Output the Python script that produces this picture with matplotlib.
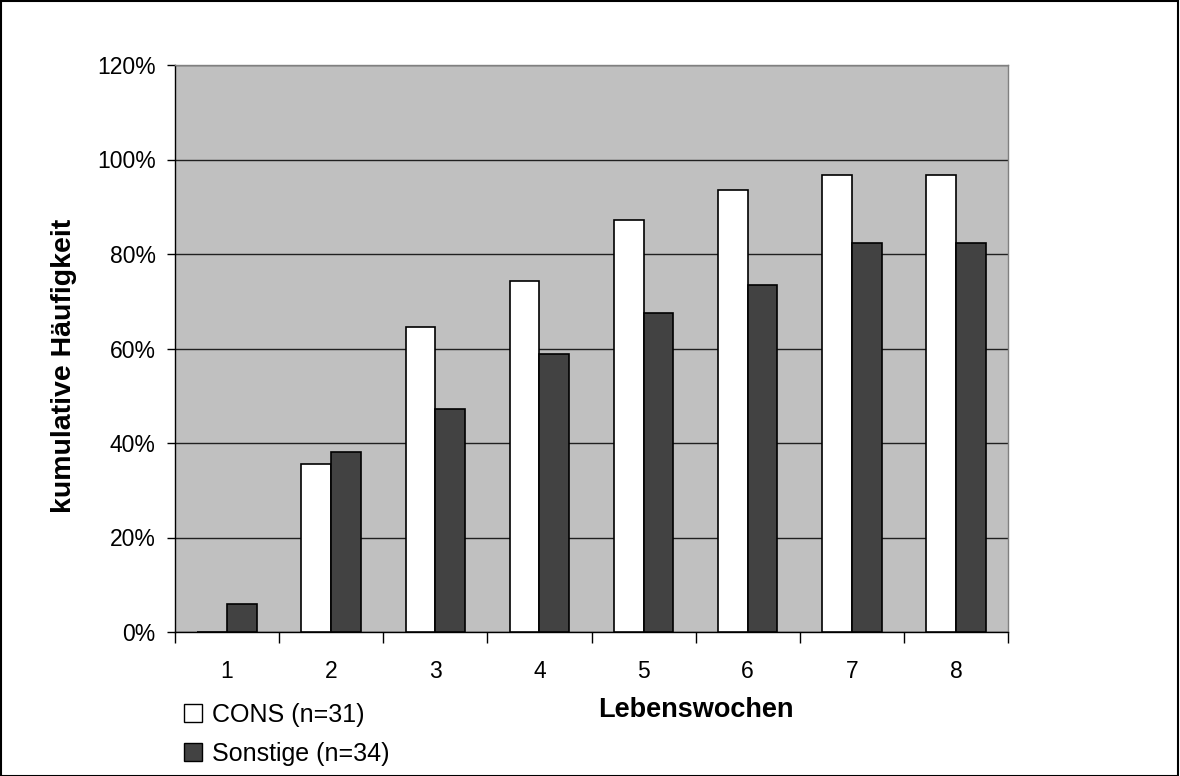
import matplotlib
matplotlib.use("Agg")
import matplotlib.pyplot as plt
import numpy as np
from matplotlib.patches import Rectangle, Patch
from matplotlib.ticker import FixedLocator, PercentFormatter

weeks = ["1", "2", "3", "4", "5", "6", "7", "8"]
cons = [0.0, 35.5, 64.5, 74.2, 87.1, 93.5, 96.8, 96.8]
sonstige = [5.9, 38.2, 47.1, 58.8, 67.6, 73.5, 82.4, 82.4]
series_names = ["CONS (n=31)", "Sonstige (n=34)"]

plt.rcParams['font.family'] = ['Liberation Sans', 'DejaVu Sans']

W, H = 1180, 776
fig = plt.figure(figsize=(W / 100, H / 100), dpi=100)
fig.patch.set_facecolor('white')
fig.patches.append(Rectangle((1 / W, 0.5 / H), (W - 3) / W, (H - 1.5) / H,
                             transform=fig.transFigure, fill=False,
                             edgecolor='black', linewidth=1.5))

x0, x1, y0, y1 = 175, 1008, 65, 632
ax = fig.add_axes([x0 / W, 1 - y1 / H, (x1 - x0) / W, (y1 - y0) / H])
ax.set_facecolor('#C0C0C0')

n = len(weeks)
x = np.arange(n)
bw = 1 / 3.5
ax.bar(x - bw / 2, cons, bw, color='white', edgecolor='black', linewidth=1.2, zorder=3)
ax.bar(x + bw / 2, sonstige, bw, color='#424242', edgecolor='black', linewidth=1.2, zorder=3)

ax.set_xlim(-0.5, n - 0.5)
ax.set_ylim(0, 120)
ax.set_yticks(np.arange(0, 121, 20))
ax.yaxis.set_major_formatter(PercentFormatter(decimals=0))
ax.yaxis.grid(True, color='#202020', linewidth=1.0, zorder=1)
ax.set_axisbelow(True)

ax.set_xticks(x)
ax.set_xticklabels(weeks)
ax.xaxis.set_minor_locator(FixedLocator(np.arange(-0.5, n, 1.0)))
ax.tick_params(axis='x', which='major', length=0, pad=20, labelsize=16.5)
ax.tick_params(axis='x', which='minor', length=8, width=1, direction='out', color='black')
ax.tick_params(axis='y', which='major', length=6, width=1, direction='out', labelsize=16.5, pad=8)

for s in ['left', 'bottom']:
    ax.spines[s].set_color('black')
    ax.spines[s].set_linewidth(1)
for s in ['top', 'right']:
    ax.spines[s].set_color('#808080')
    ax.spines[s].set_linewidth(1)

fig.text(64.5 / W, 1 - 366 / H, 'kumulative Häufigkeit', rotation=90, ha='center', va='center',
         fontsize=20.5, fontweight='bold')
fig.text(696 / W, 1 - 717 / H, 'Lebenswochen', ha='center', va='baseline',
         fontsize=19.5, fontweight='bold')

handles = [Patch(facecolor='white', edgecolor='black', linewidth=1),
           Patch(facecolor='#424242', edgecolor='black', linewidth=1)]
fig.legend(handles, series_names, loc='upper left', bbox_to_anchor=(184 / W, 1 - 703 / H),
           frameon=False, fontsize=18, handlelength=0.72, handleheight=0.72,
           handletextpad=0.42, labelspacing=0.58, borderpad=0, borderaxespad=0)

fig.savefig('out.png', dpi=100)
